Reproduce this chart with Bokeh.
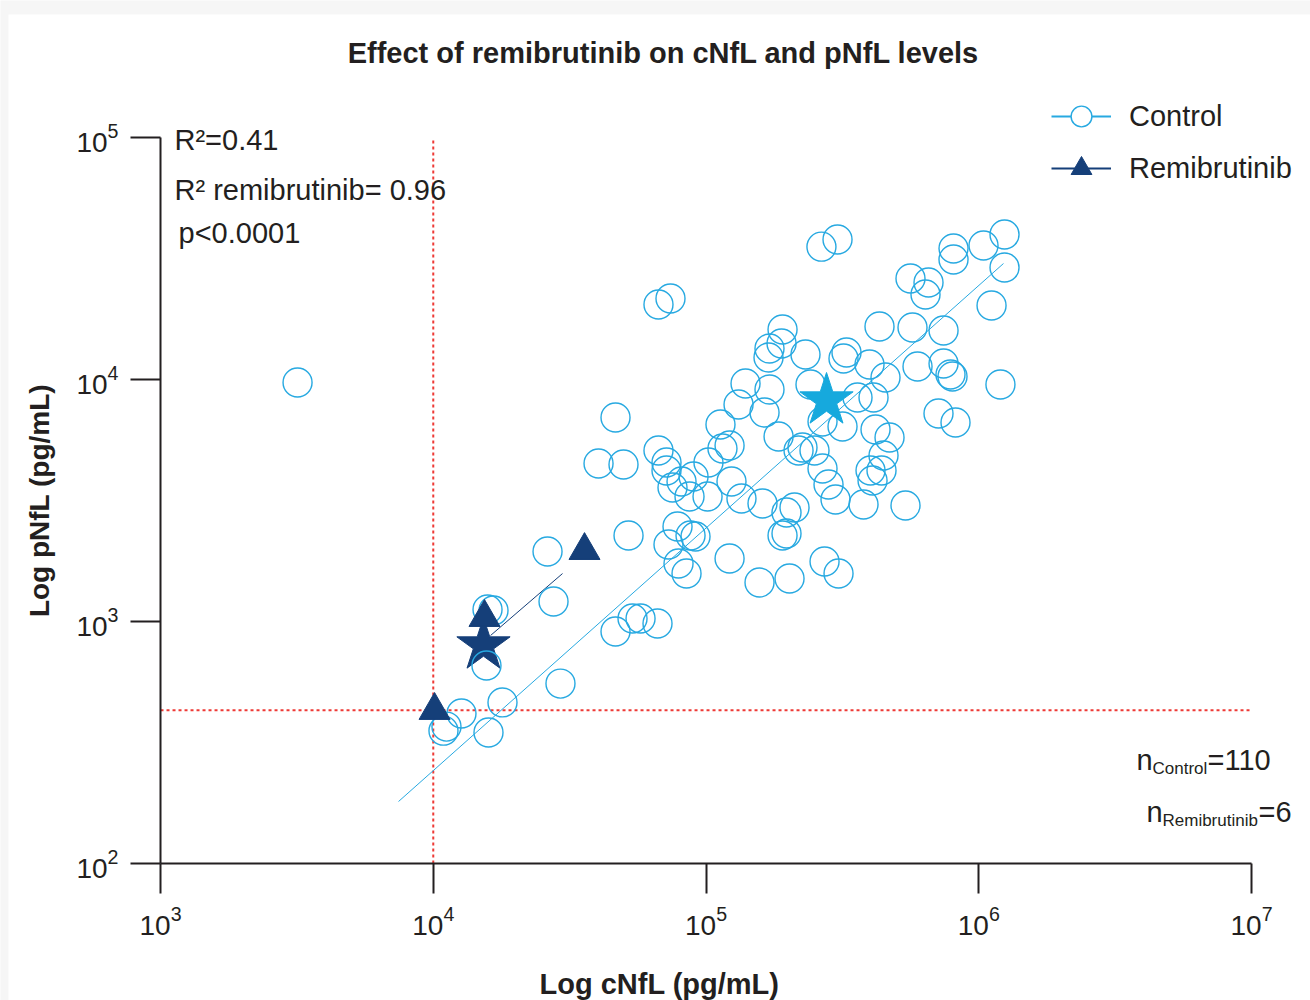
import math
from bokeh.plotting import figure
from bokeh.models import Label, Legend, LegendItem, ColumnDataSource, BoxAnnotation
from bokeh.embed import file_html
from bokeh.resources import INLINE

# ---------------- data (pg/mL) ----------------
control_cnfl = [3180, 265000, 303500, 66950, 74090, 808000, 808000, 1041000, 1243000, 1243000,
                562000, 654300, 637900, 1114000, 432600, 571600, 742800, 190800, 189200, 170900,
                169500, 231600, 327400, 319200, 397600, 455100, 596300, 742800, 787800, 801300,
                1201000, 139600, 170900, 241600, 359300, 411300, 131600, 163900, 113000, 46580,
                267400, 316600, 418300, 470800, 711900, 821800, 184500, 114900, 122000, 66950,
                218400, 225800, 249900, 447500, 40360, 49830, 71640, 71640, 102100, 267400,
                401000, 440000, 407900, 75360, 81330, 90000, 124000, 281300, 87000, 101300,
                134900, 161100, 298400, 378000, 538800, 197300, 211100, 190800, 197300, 78620,
                51990, 72860, 87750, 91520, 26240, 79290, 84830, 122000, 157100, 202400,
                272000, 306100, 27600, 15810, 16630, 46580, 53770, 57540, 66400, 15670,
                29270, 17940, 12690, 10900, 11180, 15940]
control_pnfl = [9720, 35400, 37880, 20410, 21610, 34770, 31320, 35780, 39740, 29020,
                26150, 25170, 22450, 20220, 16560, 16400, 15940, 16090, 14090, 13430,
                12330, 12690, 12930, 12210, 11530, 10190, 11320, 11640, 10490, 10290,
                9535, 9627, 9092, 9535, 8426, 8426, 7884, 7304, 6516, 6966,
                6704, 6393, 6213, 5758, 7235, 6641, 5813, 5187, 5338, 5089,
                5089, 5236, 5089, 4853, 4497, 4455, 4539, 4207, 4539, 4287,
                4207, 4207, 3824, 3578, 3788, 3974, 3788, 3682, 3285, 3285,
                3223, 3073, 3192, 3044, 3015, 2821, 2959, 2267, 2310, 2470,
                2267, 2081, 2267, 2245, 1947, 1737, 1579, 1821, 1449, 1506,
                1770, 1579, 1209, 1121, 1110, 909, 1029, 1029, 981, 658,
                554, 463, 417, 354, 368, 348]

remi_cnfl = [10110, 15410, 35850]
remi_pnfl = [429, 1039, 1965]

control_mean_cnfl = [276600]
control_mean_pnfl = [8190]
remi_mean_cnfl = [15280]
remi_mean_pnfl = [796]

# log-log regression fits: log10(pNfL) = slope * log10(cNfL) + intercept
control_fit = dict(slope=1.0023, intercept=-1.6253, x_from=7458, x_to=1232000)
remi_fit = dict(slope=0.970, intercept=-1.1415, x_from=16220, x_to=29780)

cnfl_cutoff = 10000
pnfl_cutoff = 430

x_ticks = [1e3, 1e4, 1e5, 1e6, 1e7]
y_ticks = [1e2, 1e3, 1e4, 1e5]

# visible window of the (log) scales, wider than the axes so that texts around them fit
x_view = (259.0, 1.6455e7)
y_view = (27.16, 368300)

# ---------------- style ----------------
LIGHT = "#27A9E1"
STAR_LIGHT = "#16A9DD"
NAVY = "#153F79"
RED = "#EE3A36"
INK = "#231F20"
FONT = "Liberation Sans"
W, H = 1310, 1000


def fit_line(fit):
    xs = [fit["x_from"], fit["x_to"]]
    ys = [10 ** (fit["slope"] * math.log10(x) + fit["intercept"]) for x in xs]
    return xs, ys


p = figure(x_axis_type="log", y_axis_type="log", x_range=x_view, y_range=y_view,
           frame_width=W, frame_height=H,
           min_border_left=0, min_border_right=0, min_border_top=0, min_border_bottom=0,
           output_backend="svg", toolbar_location=None,
           background_fill_color="#F6F6F6", border_fill_color="#F6F6F6")
p.title.visible = False
p.outline_line_color = None
p.xgrid.visible = False
p.ygrid.visible = False

# white sheet (light grey strip at left/top as in the reference)
p.add_layout(BoxAnnotation(left=8, right=W, bottom=0, top=H - 14,
                           left_units="screen", right_units="screen",
                           bottom_units="screen", top_units="screen",
                           fill_color="white", fill_alpha=1, line_color=None,
                           level="underlay"))

p.xaxis.fixed_location = y_ticks[0]
p.yaxis.fixed_location = x_ticks[0]
p.xaxis.bounds = (x_ticks[0], x_ticks[-1])
p.yaxis.bounds = (y_ticks[0], y_ticks[-1])
p.xaxis.ticker = x_ticks
p.yaxis.ticker = y_ticks

for ax in (p.xaxis[0], p.yaxis[0]):
    ax.axis_line_color = INK
    ax.axis_line_width = 2
    ax.major_tick_line_color = INK
    ax.major_tick_line_width = 2
    ax.major_tick_in = 0
    ax.major_tick_out = 30
    ax.minor_tick_line_color = None
    ax.major_label_text_font = FONT
    ax.major_label_text_font_size = "28px"
    ax.major_label_text_color = INK
p.xaxis.major_label_standoff = 12
p.yaxis.major_label_standoff = 12

p.yaxis.axis_label = "Log pNfL (pg/mL)"
p.yaxis.axis_label_text_font = FONT
p.yaxis.axis_label_text_font_size = "28px"
p.yaxis.axis_label_text_font_style = "bold"
p.yaxis.axis_label_text_color = INK
p.yaxis.axis_label_standoff = 18

# reference cut-off lines
p.line([cnfl_cutoff, cnfl_cutoff], [y_ticks[0], y_ticks[-1]], line_color=RED,
       line_width=2, line_dash="3 3")
p.line([x_ticks[0], x_ticks[-1]], [pnfl_cutoff, pnfl_cutoff], line_color=RED,
       line_width=2, line_dash="3 3")

# regression lines
cx, cy = fit_line(control_fit)
rx, ry = fit_line(remi_fit)
p.line(cx, cy, line_color=LIGHT, line_width=1)
p.line(rx, ry, line_color=NAVY, line_width=1)

# remibrutinib mean star (below control circles)
p.scatter(remi_mean_cnfl, remi_mean_pnfl, marker="star", size=56,
          fill_color=NAVY, line_color=NAVY)

ctrl_src = ColumnDataSource(dict(x=control_cnfl, y=control_pnfl))
p.scatter("x", "y", source=ctrl_src, marker="circle", size=29,
          fill_color=None, line_color=LIGHT, line_width=1.4)

p.scatter(control_mean_cnfl, control_mean_pnfl, marker="star", size=56,
          fill_color=STAR_LIGHT, line_color=STAR_LIGHT)

p.scatter(remi_cnfl, remi_pnfl, marker="triangle", size=31,
          fill_color=NAVY, line_color=NAVY)

# legend-only renderers (hidden)
lg_ctrl_line = p.line(cx, cy, line_color=LIGHT, line_width=2, visible=False)
lg_ctrl_pt = p.scatter("x", "y", source=ctrl_src, marker="circle", fill_color="white",
                       line_color=LIGHT, line_width=1.4, visible=False)
lg_remi_line = p.line(rx, ry, line_color=NAVY, line_width=2, visible=False)
lg_remi_pt = p.scatter(remi_cnfl, remi_pnfl, marker="triangle", fill_color=NAVY,
                       line_color=NAVY, visible=False)

legend = Legend(items=[LegendItem(label="Control", renderers=[lg_ctrl_line, lg_ctrl_pt]),
                       LegendItem(label="Remibrutinib", renderers=[lg_remi_line, lg_remi_pt])],
                location=(1051, 806), orientation="vertical",
                glyph_width=60, glyph_height=52, label_standoff=18,
                padding=0, spacing=0, margin=0,
                border_line_color=None, background_fill_alpha=0,
                inactive_fill_alpha=0,
                label_text_font=FONT, label_text_font_size="29px", label_text_color=INK)
p.add_layout(legend)


def add_text(x, y, text, size="29px", style="normal", align="left"):
    # x, y: pixels from the picture's left / top edge
    p.add_layout(Label(x=x, y=H - y, x_units="screen", y_units="screen", text=text,
                       text_font=FONT, text_font_size=size, text_font_style=style,
                       text_color=INK, text_align=align, text_baseline="alphabetic"))


# title and x-axis label
add_text(663, 52, "Effect of remibrutinib on cNfL and pNfL levels", style="bold", align="center")
add_text(659, 983, "Log cNfL (pg/mL)", style="bold", align="center")

# statistics
add_text(174, 139, "R²=0.41")
add_text(174, 189, "R² remibrutinib= 0.96")
add_text(178, 232, "p<0.0001")

# sample sizes
add_text(1136, 759, "n")
add_text(1152, 768, "Control", size="17px")
add_text(1207, 759, "=110")
add_text(1146, 811, "n")
add_text(1162, 820, "Remibrutinib", size="17px")
add_text(1258, 811, "=6")

open("out.html", "w").write(file_html(p, INLINE))
